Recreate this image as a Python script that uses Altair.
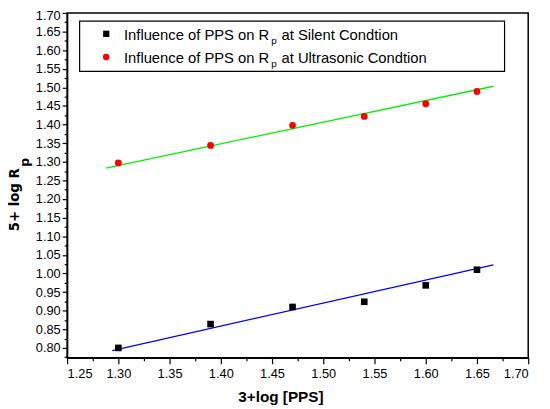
import altair as alt
import pandas as pd

# ---- data ----
pps = [1.30, 1.39, 1.47, 1.54, 1.60, 1.65]
rp_silent = [0.800, 0.864, 0.910, 0.924, 0.968, 1.010]
rp_ultra = [1.297, 1.344, 1.398, 1.422, 1.456, 1.489]

fit_silent_x = [1.294, 1.666]
fit_silent_y = [0.793, 1.023]
fit_ultra_x = [1.288, 1.666]
fit_ultra_y = [1.283, 1.503]

x_major = [1.25, 1.30, 1.35, 1.40, 1.45, 1.50, 1.55, 1.60, 1.65, 1.70]
x_minor = [1.275, 1.325, 1.375, 1.425, 1.475, 1.525, 1.575, 1.625, 1.675]
y_major = [0.80, 0.85, 0.90, 0.95, 1.00, 1.05, 1.10, 1.15, 1.20, 1.25,
           1.30, 1.35, 1.40, 1.45, 1.50, 1.55, 1.60, 1.65, 1.70]
y_minor = [0.775, 0.825, 0.875, 0.925, 0.975, 1.025, 1.075, 1.125, 1.175,
           1.225, 1.275, 1.325, 1.375, 1.425, 1.475, 1.525, 1.575, 1.625, 1.675]

legend_prefix = "Influence of PPS on R"
legend_sub = "p"
legend_suffix = ["at Silent Condtion", "at Ultrasonic Condtion"]
x_title = "3+log [PPS]"
y_title = "5+ log R"
y_title_sub = "p"

FONT = "Liberation Sans"
YFONT = "DejaVu Sans"

silent_df = pd.DataFrame({"x": pps, "y": rp_silent})
ultra_df = pd.DataFrame({"x": pps, "y": rp_ultra})
fit_s_df = pd.DataFrame({"x": fit_silent_x, "y": fit_silent_y})
fit_u_df = pd.DataFrame({"x": fit_ultra_x, "y": fit_ultra_y})
one = pd.DataFrame({"k": [0]})

major_test = "abs(round(datum.value*20) - datum.value*20) < 0.01"

x_axis = alt.Axis(
    values=sorted(x_major + x_minor),
    labelExpr=f"({major_test}) ? format(datum.value, '.2f') : ''",
    tickSize={"condition": {"test": major_test, "value": 6}, "value": 3},
    labelPadding=4,
    title=None,
    grid=False,
)
y_axis = alt.Axis(
    values=sorted(y_major + y_minor),
    labelExpr=f"({major_test}) ? format(datum.value, '.2f') : ''",
    tickSize={"condition": {"test": major_test, "value": 5}, "value": 3},
    labelOffset={"condition": {"test": "datum.value > 1.699", "value": 2.5}, "value": 0},
    labelPadding=2,
    title=None,
    grid=False,
)
x_scale = alt.Scale(domain=[1.25, 1.70], nice=False, zero=False)
y_scale = alt.Scale(domain=[0.7735, 1.70], nice=False, zero=False)

def xe():
    return alt.X("x:Q", scale=x_scale, axis=x_axis)

def ye():
    return alt.Y("y:Q", scale=y_scale, axis=y_axis)

fit_s = alt.Chart(fit_s_df).mark_line(color="#0000ff", strokeWidth=1.3).encode(x=xe(), y=ye())
fit_u = alt.Chart(fit_u_df).mark_line(color="#00f000", strokeWidth=1.3).encode(x=xe(), y=ye())
pts_s = alt.Chart(silent_df).mark_point(shape="square", filled=True, color="black",
                                        size=45, opacity=1).encode(x=xe(), y=ye())
pts_u = alt.Chart(ultra_df).mark_point(shape="circle", filled=True, color="#ff0000",
                                       size=48, opacity=1).encode(x=xe(), y=ye())

# legend (hand-built to allow subscript)
leg_box = alt.Chart(one).mark_rect(fill="white", stroke="black", strokeWidth=1.2).encode(
    x=alt.value(12.7), x2=alt.value(444), y=alt.value(8.3), y2=alt.value(59.3))
leg_sq = alt.Chart(one).mark_point(shape="square", filled=True, color="black",
                                   size=40, opacity=1).encode(
    x=alt.value(39.7), y=alt.value(21.2))
leg_ci = alt.Chart(one).mark_point(shape="circle", filled=True, color="#ff0000",
                                   size=44, opacity=1).encode(
    x=alt.value(39.7), y=alt.value(44.7))

def txt(s, x, y, size=15, weight="normal", angle=0, align="left", font=FONT):
    return alt.Chart(one).mark_text(text=s, font=font, fontSize=size, fontWeight=weight,
                                    align=align, baseline="alphabetic", angle=angle,
                                    color="black").encode(x=alt.value(x), y=alt.value(y))

rows_y = [27.6, 50.9]
leg_txt = []
for i, ry in enumerate(rows_y):
    leg_txt.append(txt(legend_prefix, 57.7, ry))
    leg_txt.append(txt(legend_sub, 207.2, ry + 3.6, size=10))
    leg_txt.append(txt(legend_suffix[i], 217.6, ry))

xt = txt(x_title, 217, 395, size=15.5, weight="bold", align="center")
yt = txt(y_title, -49.3, 221.7, size=13.5, weight="bold", angle=270, font=YFONT)
yts = txt(y_title_sub, -38.8, 156, size=12.5, weight="bold", angle=270, font=YFONT)

chart = alt.layer(
    fit_s, fit_u, pts_s, pts_u, leg_box, leg_sq, leg_ci, *leg_txt, xt, yt, yts
).properties(
    width=468, height=350,
    autosize=alt.AutoSizeParams(type="none"),
    padding={"left": 60, "top": 2, "right": 14, "bottom": 49},
).configure_view(
    stroke="black", strokeWidth=1.5
).configure_axis(
    labelFont=FONT, labelFontSize=13, labelColor="black",
    domainColor="black", domainWidth=1.5,
    tickColor="black", tickWidth=1.2,
)

chart.save("out.html", embed_options={"renderer": "svg", "actions": False})
